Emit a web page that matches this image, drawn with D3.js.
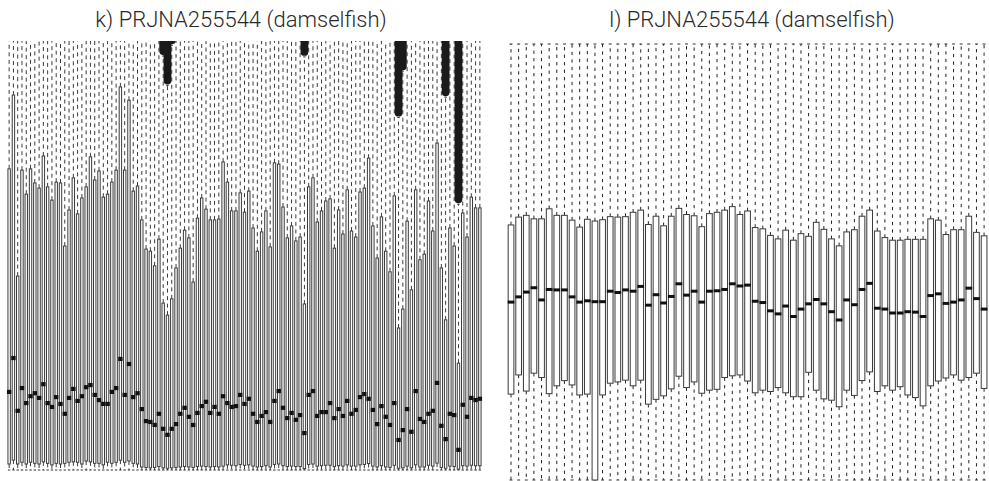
<!DOCTYPE html>
<html><head><meta charset="utf-8">
<script src="https://cdn.jsdelivr.net/npm/d3@7"></script>
<style>body{margin:0;background:#fff}svg{display:block}</style>
</head><body><svg id="c" width="989" height="481"></svg>
<script>
// ---------- panel k) : 111 samples ----------
const leftQ1 = [1.4,2.3,1.4,1.8,1.4,1.8,1.55,1.4,1.9,1.55,1.2,1.55,1.4,1.55,1.8,1.9,1.8,1.4,2.1,1.9,
1.55,1.55,1.2,1.8,1.55,1.8,2.3,1.8,2.1,1.55,1.4,
0.7,0.6,0.5,0.6,0.8,0.5,0.4,0.5,0.6,0.7,0.8,0.7,0.6,0.8,0.9,0.8,0.7,0.8,0.7,0.9,
1.2,1.1,1.0,1.3,1.1,1.2,
0.9,0.7,0.8,1.0,0.7,1.3,1.4,1.0,0.8,0.9,0.8,0.8,0.3,1.3,1.4,0.9,1.0,1.1,1.1,0.8,1.0,0.9,1.2,0.9,
0.9,1.2,1.3,1.5,0.9,0.7,1.0,0.7,0.6,1.1,0.4,0.5,0.9,0.5,1.2,0.7,0.7,1.1,0.9,1.6,0.6,0.4,0.9,0.8,
0.2,1.0,0.9,1.1,1.0,1.0];
const leftMedian = [18.2,26.1,13.8,19.1,15.6,17.2,17.9,16.8,20.0,15.6,14.7,17.0,15.4,13.1,16.8,18.9,16.1,17.2,19.3,19.8,
17.5,16.3,15.4,15.4,18.2,19.1,25.9,17.5,24.7,17.0,17.9,14.2,11.4,11.2,10.5,13.1,9.6,8.2,9.6,10.7,
13.1,14.5,12.4,10.5,13.3,14.9,15.9,13.3,14.7,13.1,17.2,15.6,14.7,14.9,17.5,15.4,16.6,13.1,11.2,12.6,
13.5,11.2,16.1,18.4,14.5,12.1,13.3,11.7,12.8,8.6,17.5,18.4,12.6,13.5,13.5,15.6,12.1,14.2,12.6,16.1,
13.1,14.0,17.0,17.7,16.6,14.0,10.7,14.9,12.4,10.5,15.6,7.0,9.3,14.2,8.9,18.4,11.9,11.2,13.1,13.8,
20.3,10.3,7.2,13.1,12.8,4.7,15.2,12.4,16.8,16.3,16.6];
const leftQ3 = [70.2,87.4,45.2,69.9,64.3,70.2,66.9,65.7,73.2,66.0,62.9,67.1,66.9,52.2,60.6,68.1,59.7,63.4,66.0,73.0,
67.6,69.7,63.6,64.3,67.1,69.9,89.3,69.9,86.2,65.0,66.2,58.3,51.5,51.0,47.6,53.8,38.9,36.1,39.9,47.1,
51.7,55.9,54.1,43.8,58.7,63.4,60.8,58.3,58.3,58.5,71.8,67.1,60.4,60.4,64.6,60.1,65.0,56.4,51.0,55.5,
60.4,52.0,71.6,71.3,61.3,54.1,56.9,53.4,54.3,38.7,66.0,68.1,57.8,60.4,62.7,63.2,51.7,60.6,55.0,65.3,
55.7,54.3,64.8,65.7,72.7,56.9,49.4,59.0,51.0,46.2,63.9,33.1,37.5,58.0,42.0,65.3,49.0,50.3,62.7,55.7,
76.2,47.1,35.0,56.4,52.2,24.9,59.9,54.3,63.6,61.1,61.1];
const LEFT_MIN = 0;     // lowest observation of every sample
const LEFT_MAX = 150;   // highest observation, above the plotted range
const LEFT_DOMAIN = [0, 100];

// ---------- panel l) : 63 samples ----------
const rightQ1 = [0.197,0.241,0.204,0.245,0.235,0.198,0.216,0.228,0.218,0.195,0.197,0.000,0.195,0.222,0.225,0.229,0.216,0.229,0.174,0.185,
0.193,0.209,0.238,0.212,0.225,0.199,0.206,0.208,0.235,0.239,0.241,0.227,0.200,0.206,0.203,0.212,0.200,0.191,0.191,0.247,
0.206,0.186,0.183,0.168,0.206,0.194,0.228,0.248,0.203,0.216,0.206,0.214,0.195,0.189,0.170,0.216,0.227,0.234,0.241,0.229,
0.235,0.245,0.210];
const rightMedian = [0.408,0.420,0.431,0.441,0.413,0.437,0.436,0.436,0.420,0.408,0.411,0.409,0.409,0.433,0.430,0.436,0.433,0.444,0.401,0.425,
0.406,0.421,0.450,0.424,0.433,0.408,0.433,0.434,0.437,0.450,0.445,0.447,0.410,0.407,0.388,0.381,0.399,0.375,0.392,0.404,
0.414,0.404,0.386,0.367,0.413,0.402,0.437,0.451,0.394,0.392,0.383,0.383,0.386,0.385,0.375,0.423,0.427,0.405,0.408,0.413,
0.440,0.416,0.392];
const rightQ3 = [0.585,0.603,0.607,0.599,0.599,0.622,0.607,0.607,0.596,0.580,0.598,0.594,0.597,0.604,0.603,0.604,0.614,0.619,0.586,0.605,
0.583,0.605,0.623,0.609,0.606,0.581,0.611,0.614,0.619,0.627,0.609,0.617,0.579,0.576,0.561,0.553,0.573,0.550,0.565,0.559,
0.591,0.575,0.553,0.537,0.569,0.574,0.605,0.619,0.571,0.556,0.550,0.550,0.552,0.552,0.552,0.599,0.596,0.563,0.574,0.574,
0.605,0.568,0.560];
const RIGHT_MIN = 0, RIGHT_MAX = 1;
const RIGHT_DOMAIN = [0, 1];

const titles = ["k) PRJNA255544 (damselfish)", "l) PRJNA255544 (damselfish)"];

const svg = d3.select("#c");

function panel(cfg) {
  const n = cfg.q1.length;
  const rows = cfg.q1.map((q1, i) => {
    const q3 = cfg.q3[i], iqr = q3 - q1;
    return {
      i, q1, med: cfg.med[i], q3,
      hi: Math.min(cfg.max, q3 + 1.5 * iqr),
      lo: Math.max(cfg.min, q1 - 1.5 * iqr),
      max: cfg.max
    };
  });
  const x = d3.scaleBand().domain(d3.range(n)).range(cfg.xRange);
  const y = d3.scaleLinear().domain(cfg.domain).range(cfg.yRange);
  const cx = d => x(d.i) + x.bandwidth() / 2;

  const id = "clip" + cfg.key;
  svg.append("clipPath").attr("id", id).append("rect")
    .attr("x", cfg.xRange[0] - 6).attr("y", cfg.clip[0])
    .attr("width", cfg.xRange[1] - cfg.xRange[0] + 12).attr("height", cfg.clip[1] - cfg.clip[0]);
  const g = svg.append("g").attr("clip-path", `url(#${id})`);

  // whiskers
  g.selectAll(".wu").data(rows).join("line")
    .attr("x1", cx).attr("x2", cx)
    .attr("y1", d => y(d.q3)).attr("y2", d => y(d.hi))
    .attr("stroke", cfg.wColor).attr("stroke-width", 1).attr("stroke-dasharray", cfg.dash);
  g.selectAll(".wl").data(rows).join("line")
    .attr("x1", cx).attr("x2", cx)
    .attr("y1", d => y(d.q1)).attr("y2", d => y(d.lo))
    .attr("stroke", cfg.wColor).attr("stroke-width", 1).attr("stroke-dasharray", cfg.dash);
  // caps
  ["hi", "lo"].forEach(k => {
    g.selectAll(".cap" + k).data(rows).join("line")
      .attr("x1", d => cx(d) - cfg.capW / 2).attr("x2", d => cx(d) + cfg.capW / 2)
      .attr("y1", d => y(d[k])).attr("y2", d => y(d[k]))
      .attr("stroke", "#333").attr("stroke-width", 1);
  });
  // dense outliers (above upper fence)
  g.selectAll(".out").data(rows.filter(d => d.max > d.hi)).join("line")
    .attr("x1", cx).attr("x2", cx)
    .attr("y1", d => y(d.hi) - cfg.outR - 1).attr("y2", d => y(d.max))
    .attr("stroke", "#1a1a1a").attr("stroke-width", cfg.outR * 2).attr("stroke-linecap", "round");
  // boxes
  g.selectAll(".box").data(rows).join("rect")
    .attr("x", d => cx(d) - cfg.boxW / 2).attr("width", cfg.boxW)
    .attr("y", d => y(d.q3)).attr("height", d => y(d.q1) - y(d.q3))
    .attr("fill", "#fff").attr("stroke", "#3a3a3a").attr("stroke-width", 1);
  // medians
  g.selectAll(".med").data(rows).join("line")
    .attr("x1", d => cx(d) - cfg.medW / 2).attr("x2", d => cx(d) + cfg.medW / 2)
    .attr("y1", d => y(d.med)).attr("y2", d => y(d.med))
    .attr("stroke", "#111").attr("stroke-width", cfg.medH);

  svg.append("text").attr("x", cfg.titleX).attr("y", 27)
    .attr("text-anchor", "middle")
    .attr("font-family", "Roboto, 'Liberation Sans', sans-serif")
    .attr("font-size", 22).attr("font-weight", 300).attr("fill", "#2a2a2a")
    .text(cfg.title);
}

panel({key: "k", q1: leftQ1, med: leftMedian, q3: leftQ3, min: LEFT_MIN, max: LEFT_MAX,
  domain: LEFT_DOMAIN, xRange: [7, 482], yRange: [470, 41], clip: [41, 473],
  dash: "4,3.5", wColor: "#3a3a3a", boxW: 2.4, capW: 2.4, medW: 4.4, medH: 4.2, outR: 3.9,
  titleX: 241, title: titles[0]});

panel({key: "l", q1: rightQ1, med: rightMedian, q3: rightQ3, min: RIGHT_MIN, max: RIGHT_MAX,
  domain: RIGHT_DOMAIN, xRange: [507.2, 987.9], yRange: [480, 44], clip: [30, 481],
  dash: "3.3,4.2", wColor: "#222", boxW: 5.7, capW: 3, medW: 6.7, medH: 3, outR: 3.5,
  titleX: 752, title: titles[1]});
</script></body></html>
